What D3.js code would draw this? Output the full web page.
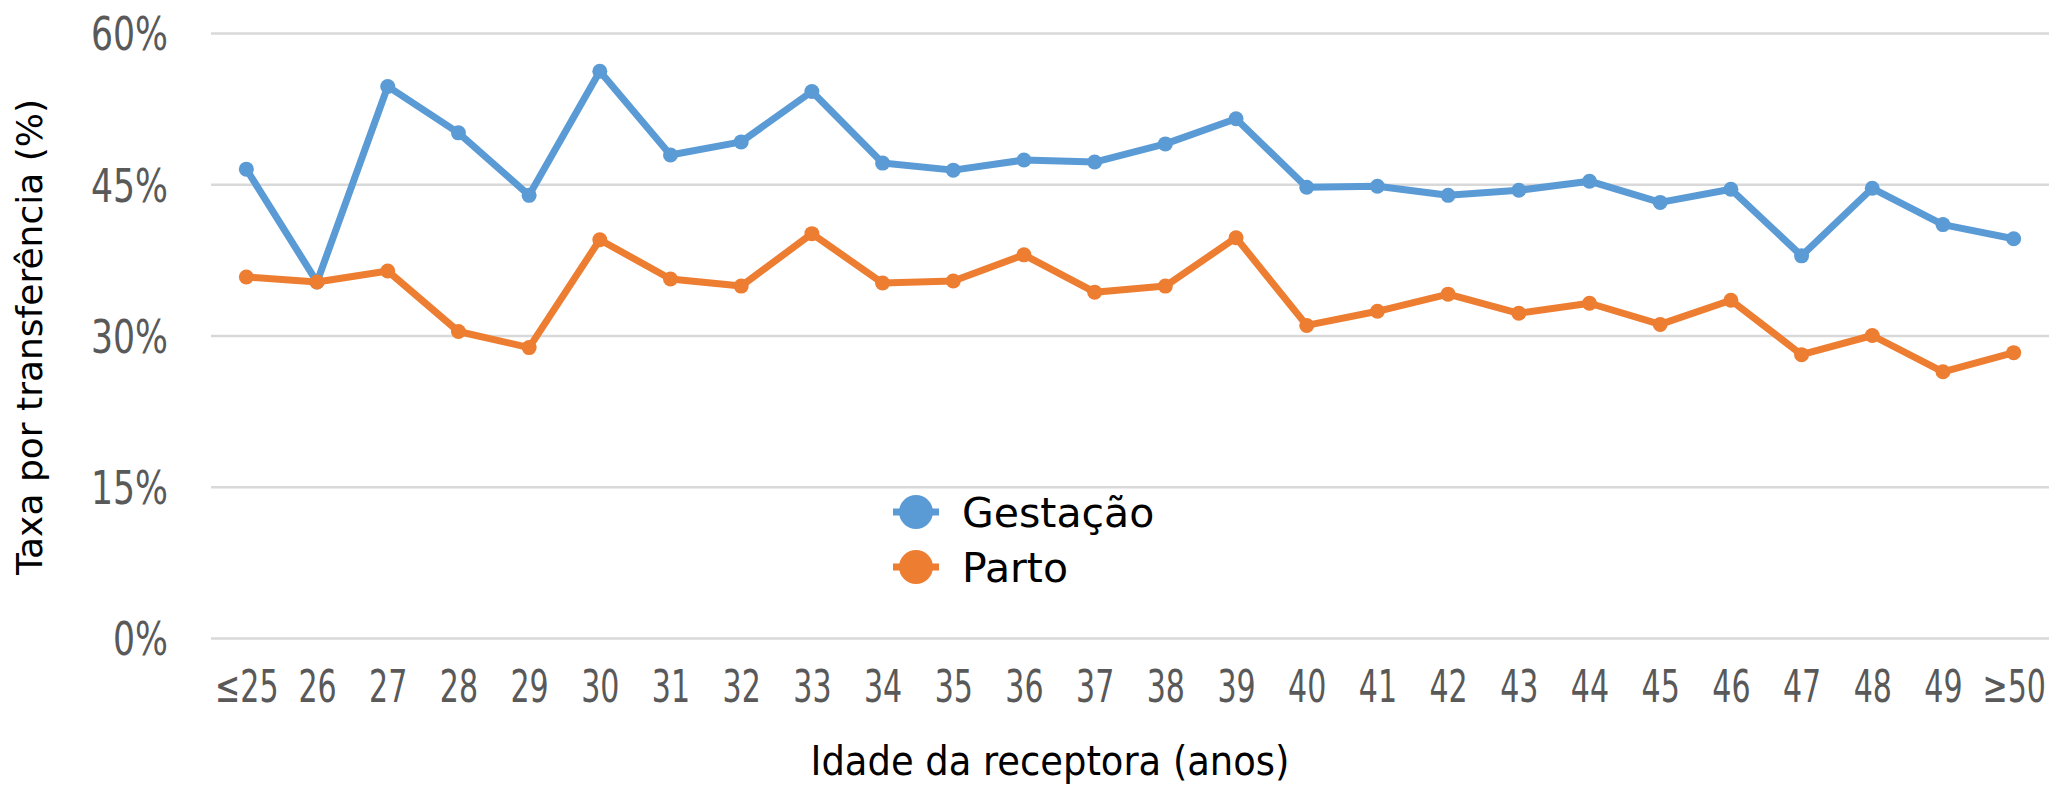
<!DOCTYPE html>
<html>
<head>
<meta charset="utf-8">
<script src="https://cdn.jsdelivr.net/npm/d3@7"></script>
<style>
  body { margin: 0; background: #fff; }
  svg { display: block; }
  .tick text { fill: #595959; font-family: "DejaVu Sans Condensed", "DejaVu Sans", sans-serif; }
  .grid line { stroke: #d9d9d9; stroke-width: 2.5; }
</style>
</head>
<body>
<div id="chart"></div>
<script>
const ages = ['≤25', '26', '27', '28', '29', '30', '31', '32', '33', '34', '35', '36', '37',
  '38', '39', '40', '41', '42', '43', '44', '45', '46', '47', '48', '49', '≥50'];

const gestacao = [46.5, 35.3, 54.7, 50.1, 43.9, 56.2, 47.9, 49.2, 54.2, 47.1, 46.4, 47.4, 47.2,
  49.0, 51.5, 44.7, 44.8, 43.9, 44.4, 45.3, 43.2, 44.5, 37.9, 44.6, 41.0, 39.6];

const parto = [35.8, 35.3, 36.4, 30.4, 28.8, 39.5, 35.6, 34.9, 40.1, 35.2, 35.4, 38.0, 34.3,
  34.9, 39.7, 31.0, 32.4, 34.1, 32.2, 33.2, 31.1, 33.5, 28.1, 30.0, 26.4, 28.3];

const yTicks = [0, 15, 30, 45, 60];

const series = [
  { name: 'Gestação', values: gestacao, color: '#5b9bd5' },
  { name: 'Parto', values: parto, color: '#ed7d31' }
];

const width = 2051;
const height = 785;
const margin = { top: 33, right: 2, bottom: 147, left: 211 };

const svg = d3.select('#chart')
  .append('svg')
  .attr('width', width)
  .attr('height', height);

const x = d3.scalePoint()
  .domain(ages)
  .range([margin.left, width - margin.right])
  .padding(0.5);

const y = d3.scaleLinear()
  .domain([0, 60])
  .range([height - margin.bottom, margin.top]);

// gridlines + y labels (font squeezed to look like the narrow original)
const yAxis = svg.append('g')
  .attr('class', 'grid')
  .attr('transform', `translate(${margin.left}, 0)`)
  .call(d3.axisLeft(y)
    .tickValues(yTicks)
    .tickSize(-(width - margin.left - margin.right))
    .tickPadding(0)
    .tickFormat((d) => d + '%'));
yAxis.select('.domain').remove();
yAxis.selectAll('text')
  .attr('x', 0)
  .attr('dy', '0.36em')
  .attr('transform', 'translate(-43, 0) scale(0.82, 1)')
  .style('font-size', '47px');

// x labels
const xAxis = svg.append('g')
  .attr('transform', `translate(0, ${y(0)})`)
  .call(d3.axisBottom(x).tickSize(0).tickPadding(0));
xAxis.select('.domain').remove();
xAxis.selectAll('text')
  .attr('y', 0)
  .attr('dy', 0)
  .attr('transform', 'translate(0, 64) scale(0.76, 1)')
  .style('font-size', '44px');

// lines
const line = d3.line()
  .x((d, i) => x(ages[i]))
  .y((d) => y(d));

series.forEach((s) => {
  svg.append('path')
    .datum(s.values)
    .attr('fill', 'none')
    .attr('stroke', s.color)
    .attr('stroke-width', 7)
    .attr('stroke-linejoin', 'round')
    .attr('d', line);

  svg.append('g')
    .selectAll('circle')
    .data(s.values)
    .join('circle')
    .attr('cx', (d, i) => x(ages[i]))
    .attr('cy', (d) => y(d))
    .attr('r', 7.5)
    .attr('fill', s.color);
});

// legend
const legend = svg.append('g').attr('transform', 'translate(916, 512)');
series.forEach((s, i) => {
  const g = legend.append('g').attr('transform', `translate(0, ${i * 55})`);
  g.append('line')
    .attr('x1', -23).attr('x2', 23)
    .attr('stroke', s.color)
    .attr('stroke-width', 7);
  g.append('circle')
    .attr('r', 17)
    .attr('fill', s.color);
  g.append('text')
    .attr('x', 46)
    .attr('y', 15)
    .style('font-family', '"DejaVu Sans", sans-serif')
    .style('font-size', '41px')
    .attr('fill', '#000')
    .text(s.name);
});

// axis titles
svg.append('text')
  .attr('x', 1050)
  .attr('y', 775)
  .attr('text-anchor', 'middle')
  .style('font-family', '"DejaVu Sans Condensed", sans-serif')
  .style('font-size', '41px')
  .attr('fill', '#000')
  .text('Idade da receptora (anos)');

svg.append('text')
  .attr('transform', 'translate(42, 337) rotate(-90)')
  .attr('text-anchor', 'middle')
  .style('font-family', '"DejaVu Sans", sans-serif')
  .style('font-size', '36px')
  .attr('fill', '#000')
  .text('Taxa por transferência (%)');
</script>
</body>
</html>
